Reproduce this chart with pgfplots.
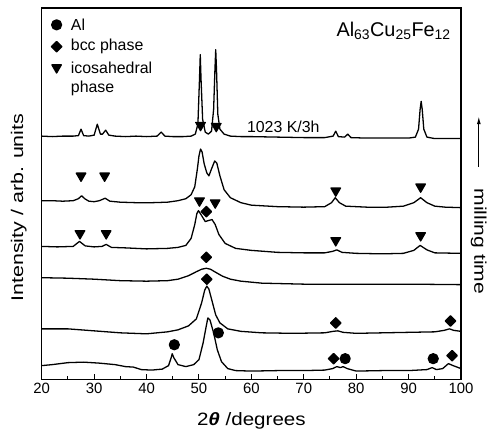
\documentclass[border=0pt]{standalone}
\usepackage{fontspec}
\setmainfont{Liberation Sans}
\usepackage{pgfplots}
\pgfplotsset{compat=1.18}
\usetikzlibrary{arrows.meta, calc}

\begin{document}
\begin{tikzpicture}[x=1pt,y=1pt]
\begin{axis}[
  width=422pt, height=374pt, scale only axis,
  xmin=20, xmax=100, ymin=8, ymax=382, y dir=reverse,
  xtick={20,30,...,100}, minor x tick num=1,
  xtick pos=bottom, tick align=inside,
  major tick length=6pt, minor tick length=3.5pt,
  ytick=\empty,
  axis line style={line width=1.3pt},
  every tick/.style={line width=1pt, black},
  tick label style={font=\fontsize{15}{18}\selectfont},
  /pgf/number format/assume math mode=true,
  clip=false,
  every axis plot/.append style={black, line width=1.3pt, line join=round},
]
% 1023 K / 3h annealed
\addplot[no marks] coordinates {
 (20,137) (22,137.5) (24,137) (26,137) (27,136.5) (27.5,130) (28,136.5) (29,137)
 (30,136) (30.6,125) (31.2,135) (31.6,135) (32.2,131) (32.8,136) (34,137) (36,137.5)
 (38,137) (40,137.5) (42,137) (42.8,133) (43.5,137) (45,137.5) (47,137.5) (48.5,137)
 (49.3,135) (49.8,125) (50.1,80) (50.25,55) (50.4,80) (50.7,120) (51.2,133) (51.8,135)
 (52.4,132) (52.8,110) (53.05,70) (53.2,50) (53.35,70) (53.6,115) (54,130) (54.8,135)
 (56,137) (58,137.5) (60,137.5) (65,138) (70,138.5) (74,138.5) (75.6,137) (76.1,132)
 (76.6,137.5) (77.8,138) (78.4,135) (79,138.5) (82,139) (86,139) (90,139) (91.3,138)
 (91.9,130) (92.2,110) (92.4,102) (92.6,110) (92.9,130) (93.5,138) (95,139.5) (100,139.5)
};
% milled curves, from longest to shortest milling time
\addplot[no marks] coordinates {
 (20,202) (22,202) (24,202.5) (26,202) (27,200) (27.6,197) (28.2,200) (29,202.5)
 (30,203) (31,202) (32.1,199.5) (33,202.5) (35,203.5) (38,204) (41,204) (44,203.5)
 (46,202) (47.5,200) (48.5,196) (49.2,188) (49.7,170) (50,157) (50.3,150) (50.6,153)
 (51,165) (51.5,174) (51.9,177) (52.4,170) (53,162) (53.4,164) (54,177) (54.8,191)
 (56,199) (58,204) (60,206.5) (65,208) (70,208.5) (74,208) (75.3,204) (76,199)
 (76.8,204) (78,207.5) (82,208.5) (86,208.5) (89,207.5) (91,204) (92.3,199) (93.5,204)
 (95,207.5) (97,208.5) (100,209)
};
\addplot[no marks] coordinates {
 (20,248) (23,248.5) (26,248) (27.2,243) (28.3,247.5) (30,248.5) (31.5,248) (32.3,246)
 (33.3,249) (36,249.5) (40,250.5) (44,250) (46,249) (47.5,247) (48.5,240) (49.2,226)
 (49.6,215) (49.9,212) (50.4,216) (51.2,223) (51.8,222) (52.5,221) (53.1,226)
 (53.8,236) (55,245) (57,250) (60,252) (65,254) (70,254.5) (74,254.5) (75.5,253)
 (76.3,251.5) (77.3,254) (80,255) (85,255.5) (89,255) (91,252) (92.2,247) (93.5,251.5)
 (95,254.5) (100,255)
};
\addplot[no marks] coordinates {
 (20,279.5) (25,280) (30,281) (35,282.5) (40,283) (44,282.5) (46,281) (48,277.5)
 (49.5,273.5) (50.5,271) (51.4,270) (52.2,271) (53,273.5) (54.5,278) (56,281) (58,283)
 (62,285) (70,286) (80,286) (90,286) (100,286.5)
};
\addplot[no marks] coordinates {
 (20,331) (25,331) (30,333) (35,335) (40,336) (44,334) (46,332) (48,328)
 (49.5,321) (50.5,305) (51.1,292) (51.5,288) (51.9,291) (52.5,303) (53.2,317) (54,325)
 (55.5,331) (58,333.5) (62,335) (68,335.5) (74,335) (75.6,333.5) (76.5,333) (77.5,334.5)
 (80,335.5) (85,335) (90,334.5) (95,334) (96.8,332.5) (97.8,331) (98.6,332.5) (100,333.5)
};
\addplot[no marks] coordinates {
 (20,368) (22,367) (25,365) (28,364.5) (31,365.5) (34,367) (36,369) (37.5,369.5)
 (39,372) (41,372.5) (43,371.5) (44.2,368) (44.7,360) (44.9,356) (45.2,360) (46,367)
 (47.5,369) (49,367) (50,362) (50.8,345) (51.4,328) (51.7,320) (52.1,322) (52.8,335)
 (53.5,352) (54.3,364) (55.5,371) (57,373) (60,373.5) (65,373) (70,373) (74,372.5)
 (75.5,371) (76.3,369) (77,370) (77.5,369) (78.3,371) (80,373.5) (85,373) (90,373)
 (93.5,372) (94.5,370) (95.3,372) (96.5,371) (97.6,366) (98.5,368) (100,371)
};
% phase markers (first point of each = legend symbol)
\addplot[only marks, mark=*, mark size=5pt] coordinates {
 (22.84,25) (45.3,347) (53.7,335) (77.9,361) (94.7,361)
};
\addplot[only marks, mark=square*, mark size=3.7pt, mark options={rotate=45}] coordinates {
 (22.84,47) (51.4,213) (51.4,259) (51.5,281) (76.1,325) (98,323) (75.7,361) (98.3,358)
};
\addplot[only marks, mark=triangle*, mark size=5.5pt, mark options={rotate=180}] coordinates {
 (22.84,68) (27.5,177) (32,177) (50.3,126) (53.3,127) (76.1,192) (92.3,188)
 (27.3,235) (32.3,235) (50.1,202) (53.1,204) (76.1,242) (92.3,237)
};
% legend text
\node[anchor=west, font=\fontsize{16}{18}\selectfont] at (axis cs:24.9,25) {Al};
\node[anchor=west, font=\fontsize{16}{18}\selectfont] at (axis cs:24.9,47) {bcc phase};
\node[anchor=west, font=\fontsize{16}{18}\selectfont] at (axis cs:24.9,68) {icosahedral};
\node[anchor=west, font=\fontsize{16}{18}\selectfont] at (axis cs:24.9,89) {phase};
% annotations
\node[anchor=base east, font=\fontsize{20}{22}\selectfont] at (axis cs:98.7,37)
  {Al\textsubscript{63}Cu\textsubscript{25}Fe\textsubscript{12}};
\node[anchor=base west, font=\fontsize{16}{18}\selectfont] at (axis cs:58.5,133) {1023 K/3h};
\draw[line width=1.2pt, -{Latex[length=8pt,width=4pt]}] (axis cs:103.4,168) -- (axis cs:103.4,117);
\node[rotate=-90, font=\fontsize{17}{20}\selectfont] at (axis cs:103.4,243) {\scalebox{1.25}[1]{milling time}};
% axis titles
\node[rotate=90, font=\fontsize{17}{20}\selectfont] at (axis cs:15.6,209) {\scalebox{1.27}[1]{Intensity / arb. units}};
\node[font=\fontsize{18}{20}\selectfont] at (axis cs:60,424) {\scalebox{1.15}[1]{2{\bfseries\itshape θ} /degrees}};
\coordinate (tl) at (axis cs:20,8);
\coordinate (br) at (axis cs:100,382);
\end{axis}
\path ($(tl)+(-42,8)$) rectangle ($(br)+(26,-54)$);
\end{tikzpicture}
\end{document}
